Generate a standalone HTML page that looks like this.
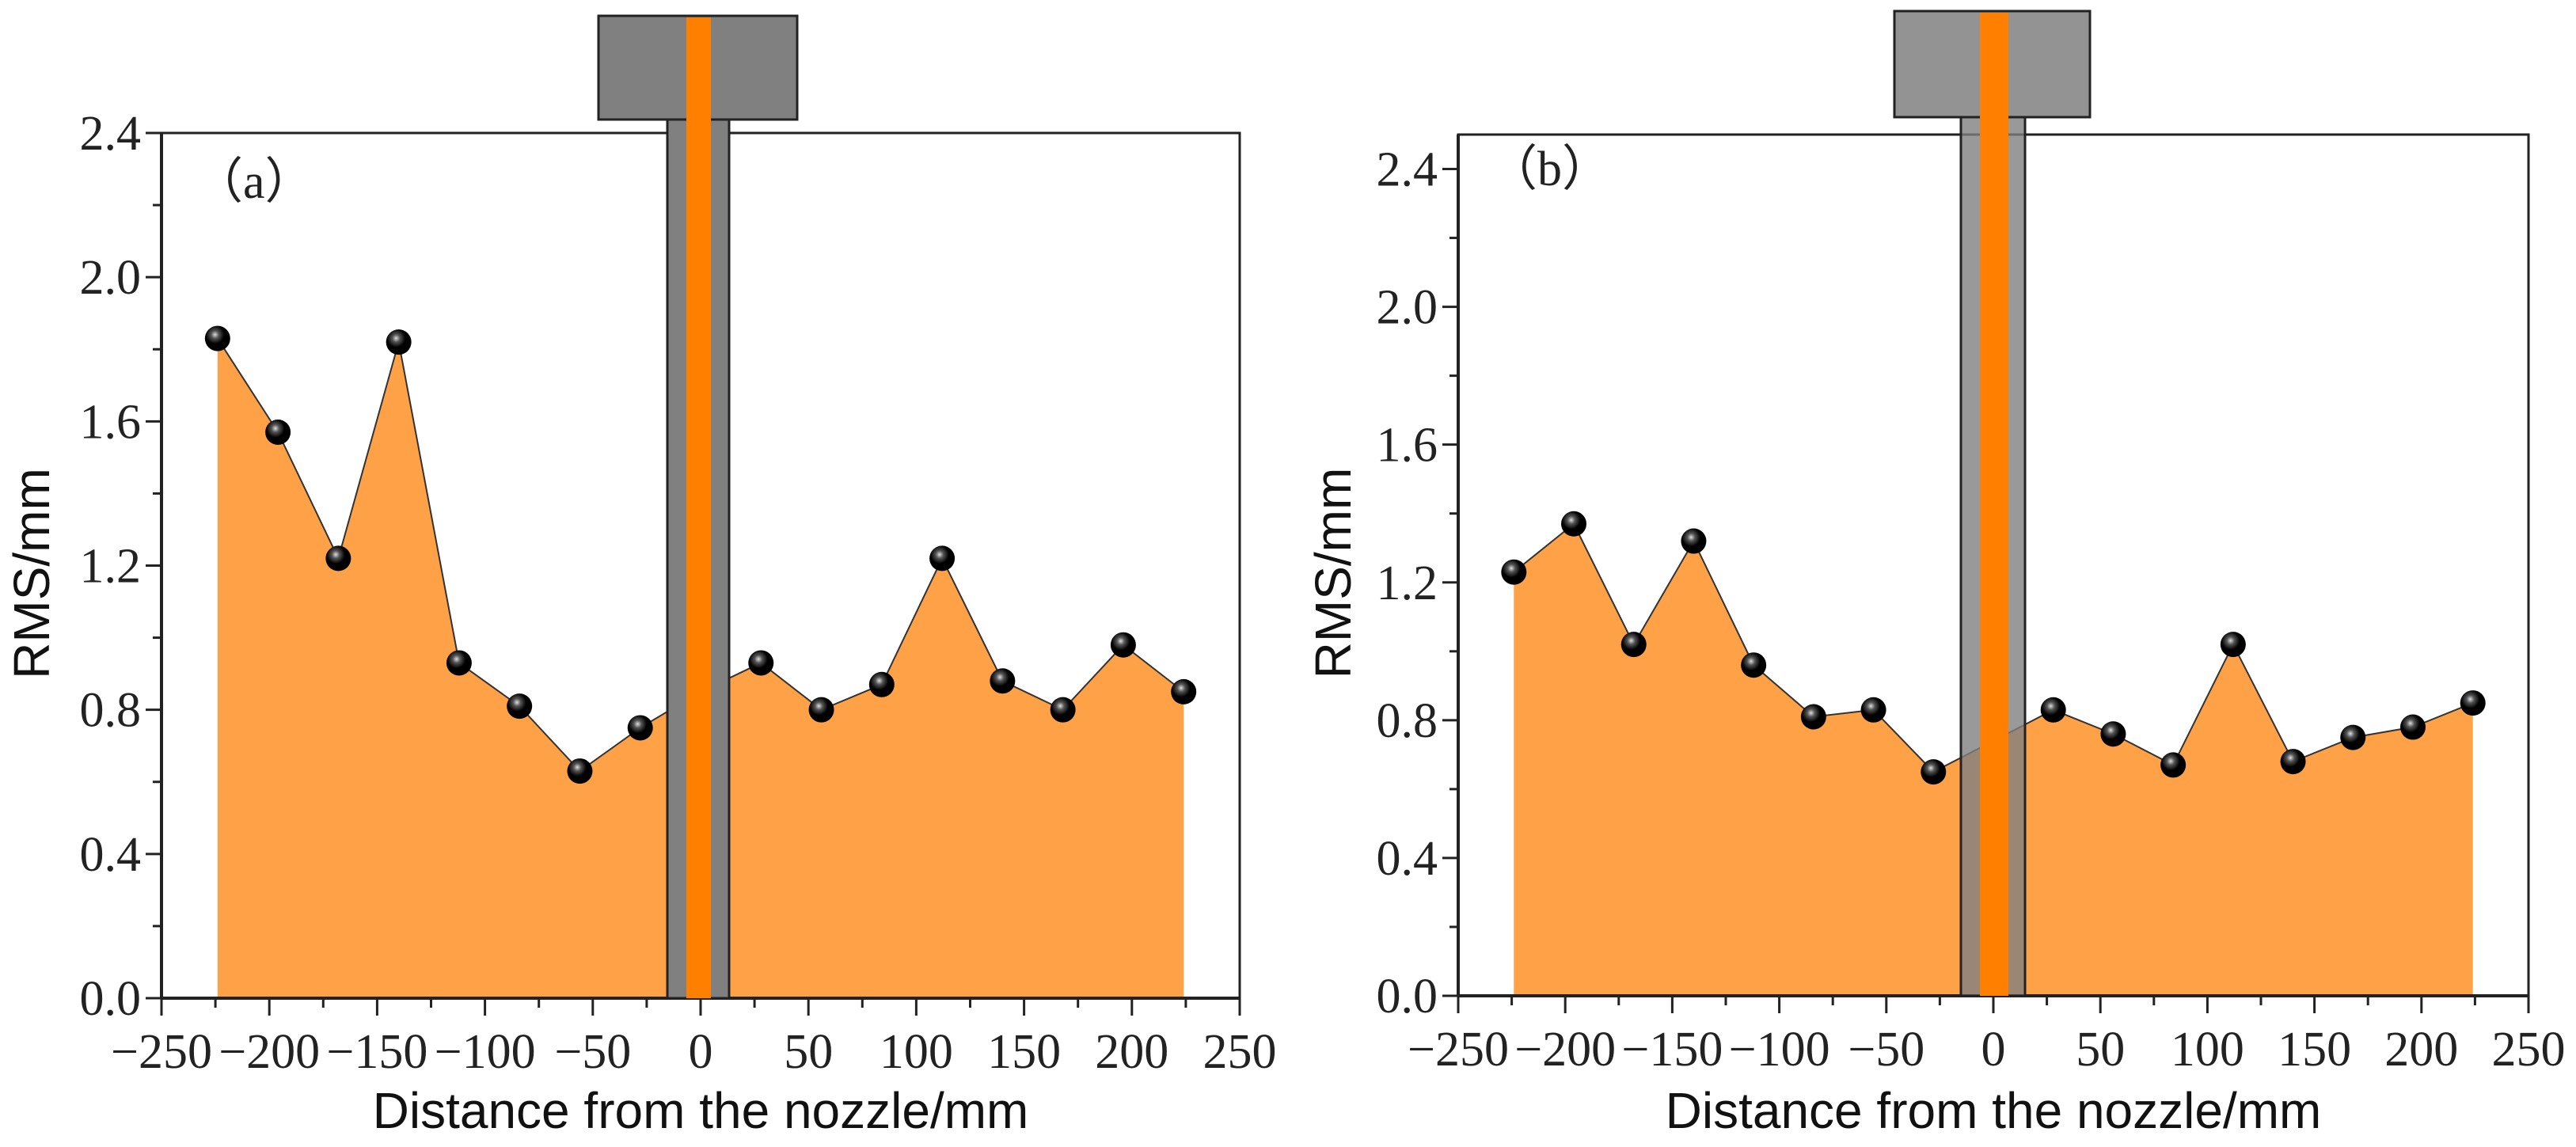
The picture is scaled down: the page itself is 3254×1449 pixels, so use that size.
<!DOCTYPE html>
<html><head><meta charset="utf-8"><style>
html,body{margin:0;padding:0;background:#fff}
svg{display:block}
.tick{font-family:"Liberation Serif",serif;font-size:62px;fill:#222}
.title{font-family:"Liberation Sans",sans-serif;font-size:64px;fill:#111}
</style></head><body>
<svg id="chart" width="3254" height="1449" viewBox="0 0 3254 1449" xmlns="http://www.w3.org/2000/svg">
<defs>
<radialGradient id="ball" cx="0.4" cy="0.35" r="0.6">
<stop offset="0" stop-color="#ddd"/><stop offset="0.25" stop-color="#555"/><stop offset="0.6" stop-color="#000"/><stop offset="1" stop-color="#000"/>
</radialGradient>
</defs>
</svg>
<script>
const xPos = [-224,-196,-168,-140,-112,-84,-56,-28,0,28,56,84,112,140,168,196,224];
const rmsA = [1.83,1.57,1.22,1.82,0.93,0.81,0.63,0.75,0.85,0.93,0.80,0.87,1.22,0.88,0.80,0.98,0.85];
const rmsB = [1.23,1.37,1.02,1.32,0.96,0.81,0.83,0.65,0.74,0.83,0.76,0.67,1.02,0.68,0.75,0.78,0.85];
const xTicks = [-250,-200,-150,-100,-50,0,50,100,150,200,250];
const yTicks = [0.0,0.4,0.8,1.2,1.6,2.0,2.4];

const svg = document.getElementById('chart');
const NS = 'http://www.w3.org/2000/svg';
function mk(tag, attrs, parent){const e=document.createElementNS(NS,tag);for(const k in attrs)e.setAttribute(k,attrs[k]);(parent||svg).appendChild(e);return e;}

function panel(cfg){
  const g = mk('g',{});
  
  
  const sx = v => cfg.L + (v+250)/500*(cfg.R-cfg.L);
  const sy = v => cfg.B - v/cfg.ymax*(cfg.B-cfg.T);
  const fr = mk('rect',{x:cfg.L,y:cfg.T,width:cfg.R-cfg.L,height:cfg.B-cfg.T,fill:'#fff',stroke:'#222','stroke-width':3},g);
  
  
  let d = 'M'+sx(xPos[0])+','+sy(0);
  xPos.forEach((x,i)=>{d+=' L'+sx(x)+','+sy(cfg.data[i]);});
  d += ' L'+sx(xPos[xPos.length-1])+','+sy(0)+' Z';
  const area = mk('path',{d:d,fill:'#FFA146'},g);
  
  
  const line = mk('polyline',{points:xPos.map((x,i)=>sx(x)+','+sy(cfg.data[i])).join(' '),fill:'none',stroke:'#333','stroke-width':2},g);
  
  
  xPos.forEach((x,i)=>{
    const c = mk('circle',{cx:sx(x),cy:sy(cfg.data[i]),r:16,fill:'url(#ball)'},g);
    
    
  });
  mk('line',{x1:cfg.L,y1:cfg.B,x2:cfg.R,y2:cfg.B,stroke:'#222','stroke-width':4},g);
  mk('line',{x1:cfg.L,y1:cfg.T,x2:cfg.L,y2:cfg.B,stroke:'#222','stroke-width':4},g);
  xTicks.forEach((t,i)=>{
    mk('line',{x1:sx(t),y1:cfg.B,x2:sx(t),y2:cfg.B+22,stroke:'#222','stroke-width':3},g);
    if(i<xTicks.length-1) mk('line',{x1:sx(t+25),y1:cfg.B,x2:sx(t+25),y2:cfg.B+12,stroke:'#222','stroke-width':3},g);
    const tx = mk('text',{x:sx(t),y:cfg.B+88,'text-anchor':'middle',class:'tick'},g);
    tx.textContent = t<0 ? '\u2212'+(-t) : String(t);
    
    
  });
  yTicks.forEach((t,i)=>{
    mk('line',{x1:cfg.L-20,y1:sy(t),x2:cfg.L,y2:sy(t),stroke:'#222','stroke-width':3},g);
    if(i<yTicks.length-1) mk('line',{x1:cfg.L-11,y1:sy(t+0.2),x2:cfg.L,y2:sy(t+0.2),stroke:'#222','stroke-width':3},g);
    const ty = mk('text',{x:cfg.L-26,y:sy(t)+21,'text-anchor':'end',class:'tick'},g);
    ty.textContent = t.toFixed(1);
    
    
  });
  const nz = mk('g',{},g);
  
  
  mk('rect',{x:cfg.stem[0],y:cfg.head[3],width:cfg.stem[1]-cfg.stem[0],height:cfg.B-cfg.head[3],fill:cfg.stemFill,'fill-opacity':cfg.stemOp,stroke:'#222','stroke-width':3},nz);
  mk('rect',{x:cfg.head[0],y:cfg.head[2],width:cfg.head[1]-cfg.head[0],height:cfg.head[3]-cfg.head[2],fill:cfg.headFill,stroke:'#222','stroke-width':3},nz);
  mk('rect',{x:cfg.orange[0],y:cfg.head[2]+2,width:cfg.orange[1]-cfg.orange[0],height:cfg.B-cfg.head[2]-2,fill:'#FF8000'},nz);
  const lab = mk('text',{x:cfg.labX,y:cfg.labY,class:'tick'},g);
  lab.textContent = cfg.label;
  
  
  const yt = mk('text',{x:0,y:0,'text-anchor':'middle',class:'title',transform:'translate('+cfg.ytX+','+((cfg.T+cfg.B)/2+10)+') rotate(-90)'},g);
  yt.textContent = 'RMS/mm';
  
  
  const xt = mk('text',{x:(cfg.L+cfg.R)/2,y:1425,'text-anchor':'middle',class:'title'},g);
  xt.textContent = 'Distance from the nozzle/mm';
  
  
}
panel({id:'a',data:rmsA,L:204,R:1566,T:168,B:1261,ymax:2.4,head:[756,1007,20,151],stem:[843,921],orange:[867,898],stemFill:'#808080',stemOp:1,headFill:'#808080',labX:245,labY:250,label:'\uff08a\uff09',ytX:62});
panel({id:'b',data:rmsB,L:1842,R:3194,T:170,B:1258,ymax:2.5,head:[2393,2640,14,148],stem:[2477,2558],orange:[2501,2537],stemFill:'#808080',stemOp:0.8,headFill:'#939393',labX:1880,labY:234,label:'\uff08b\uff09',ytX:1706});
</script>
</body></html>
